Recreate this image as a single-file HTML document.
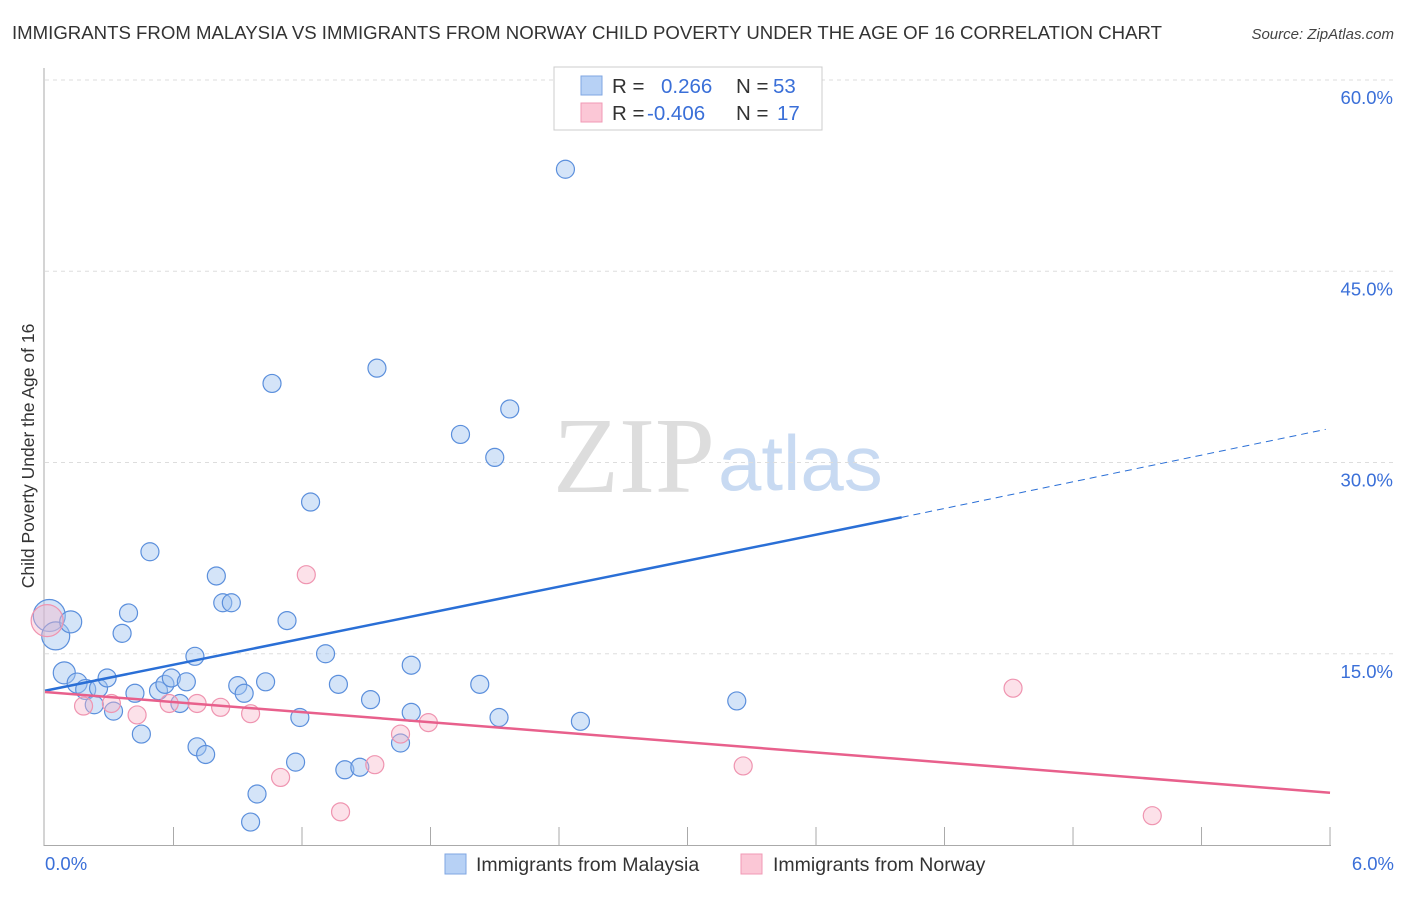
<!DOCTYPE html>
<html><head><meta charset="utf-8"><style>
body{margin:0;background:#fff;font-family:"Liberation Sans",sans-serif}
</style></head><body>
<svg width="1406" height="892" xmlns="http://www.w3.org/2000/svg" font-family="Liberation Sans, sans-serif">
<text x="12" y="39" font-size="18.5" fill="#333" textLength="1150" lengthAdjust="spacingAndGlyphs">IMMIGRANTS FROM MALAYSIA VS IMMIGRANTS FROM NORWAY CHILD POVERTY UNDER THE AGE OF 16 CORRELATION CHART</text>
<text x="1394" y="39" font-size="15" fill="#444" text-anchor="end" font-style="italic">Source: ZipAtlas.com</text>
<g><text x="553" y="492" font-size="108" fill="#ddd" font-family="Liberation Serif, serif">ZIP</text><text x="718" y="490" font-size="78" fill="#c8daf2">atlas</text></g>
<g id="grid"></g><g id="axes"></g><g id="marks"></g>
<text transform="translate(34,456) rotate(-90)" font-size="17.5" fill="#333" text-anchor="middle">Child Poverty Under the Age of 16</text>
<g>
<rect x="554" y="67" width="268" height="63" fill="#fff" stroke="#ccc"/>
<rect x="581" y="76" width="21" height="19" fill="#b7d1f5" stroke="#7fa6e2"/>
<rect x="581" y="103" width="21" height="19" fill="#fbc7d6" stroke="#f09ab5"/>
<text x="612" y="93" font-size="20.5" fill="#333">R = <tspan fill="#3a6fd8" x="661">0.266</tspan><tspan x="736" fill="#333">N = </tspan><tspan fill="#3a6fd8" x="773">53</tspan></text>
<text x="612" y="120" font-size="20.5" fill="#333">R = <tspan fill="#3a6fd8" x="647">-0.406</tspan><tspan x="736" fill="#333">N = </tspan><tspan fill="#3a6fd8" x="777">17</tspan></text>
</g>
<g>
<rect x="445" y="854" width="21" height="20" fill="#b7d1f5" stroke="#7fa6e2"/>
<text x="476" y="871" font-size="19.5" fill="#333">Immigrants from Malaysia</text>
<rect x="741" y="854" width="21" height="20" fill="#fbc7d6" stroke="#f09ab5"/>
<text x="773" y="871" font-size="19.5" fill="#333">Immigrants from Norway</text>
</g>
</svg>
<script>
const yTicks=[15,30,45,60];
const yTickLabels=["15.0%","30.0%","45.0%","60.0%"];
const xTickLabels=["0.0%","6.0%"];
const blueX=[0.02,0.05,0.12,0.09,0.15,0.19,0.23,0.25,0.29,0.32,0.36,0.39,0.42,0.45,0.49,0.53,0.56,0.59,0.63,0.66,0.70,0.71,0.75,0.80,0.83,0.87,0.90,0.93,0.99,0.96,1.03,1.06,1.13,1.17,1.19,1.24,1.31,1.37,1.40,1.47,1.52,1.55,1.66,1.71,1.71,1.94,2.03,2.10,2.12,2.17,2.43,2.50,3.23];
const blueY=[18.0,16.4,17.5,13.5,12.7,12.2,11.0,12.3,13.1,10.5,16.6,18.2,11.9,8.7,23.0,12.1,12.6,13.1,11.1,12.8,14.8,7.7,7.1,21.1,19.0,19.0,12.5,11.9,4.0,1.8,12.8,36.2,17.6,6.5,10.0,26.9,15.0,12.6,5.9,6.1,11.4,37.4,8.0,10.4,14.1,32.2,12.6,30.4,10.0,34.2,53.0,9.7,11.3];
const blueR=[16,14,11,11,10,10,9,9,9,9,9,9,9,9,9,9,9,9,9,9,9,9,9,9,9,9,9,9,9,9,9,9,9,9,9,9,9,9,9,9,9,9,9,9,9,9,9,9,9,9,9,9,9];
const pinkX=[0.01,0.18,0.31,0.43,0.58,0.71,0.82,0.96,1.10,1.22,1.38,1.54,1.66,1.79,3.26,4.52,5.17];
const pinkY=[17.6,10.9,11.1,10.2,11.1,11.1,10.8,10.3,5.3,21.2,2.6,6.3,8.7,9.6,6.2,12.3,2.3];
const pinkR=[16,9,9,9,9,9,9,9,9,9,9,9,9,9,9,9,9];
const blueTrendX=[0,4.0,5.98];
const blueTrendY=[12.1,25.7,32.6];
const pinkTrendX=[0,6.0];
const pinkTrendY=[12.0,4.1];
const NS="http://www.w3.org/2000/svg";
const X=v=>45+v*214.17, Y=v=>845-v*12.75;
function mk(t,a,p){const e=document.createElementNS(NS,t);for(const k in a)e.setAttribute(k,a[k]);p.appendChild(e);return e;}
const grid=document.getElementById('grid'),axes=document.getElementById('axes'),marks=document.getElementById('marks');
yTicks.forEach((t,i)=>{
 const l=mk('line',{x1:45,x2:1394,y1:Y(t),y2:Y(t),stroke:'#ddd','stroke-dasharray':'4,4'},grid);
 
 
 const tx=mk('text',{x:1393,y:Y(t)+24,'font-size':18.5,fill:'#3a6fd8','text-anchor':'end'},axes);
 tx.textContent=yTickLabels[i];
 
 
});
mk('line',{x1:44,x2:44,y1:68,y2:846,stroke:'#aaa'},axes);
mk('line',{x1:44,x2:1331,y1:845.5,y2:845.5,stroke:'#aaa'},axes);
for(let i=1;i<=10;i++){const l=mk('line',{x1:X(i*0.6),x2:X(i*0.6),y1:827,y2:845,stroke:'#aaa'},axes);
 
 }
[[0,45,'start'],[1,1394,'end']].forEach(([i,x,a])=>{const t=mk('text',{x:x,y:870,'font-size':18.5,fill:'#3a6fd8','text-anchor':a},axes);t.textContent=xTickLabels[i];
 
 });
function dots(xs,ys,rs,fill,stroke,name){xs.forEach((v,i)=>{const c=mk('circle',{cx:X(v),cy:Y(ys[i]),r:rs[i],fill:fill,stroke:stroke,'stroke-width':1.2},marks);
 
 });}
dots(blueX,blueY,blueR,'rgba(160,195,240,0.45)','#5b8fdc','point-malaysia');
dots(pinkX,pinkY,pinkR,'rgba(248,180,200,0.4)','#ef94b0','point-norway');
const b1=mk('line',{x1:X(blueTrendX[0]),y1:Y(blueTrendY[0]),x2:X(blueTrendX[1]),y2:Y(blueTrendY[1]),stroke:'#2a6fd6','stroke-width':2.5},marks);


const b2=mk('line',{x1:X(blueTrendX[1]),y1:Y(blueTrendY[1]),x2:X(blueTrendX[2]),y2:Y(blueTrendY[2]),stroke:'#2a6fd6','stroke-width':1,'stroke-dasharray':'7,5'},marks);


const p1=mk('line',{x1:X(pinkTrendX[0]),y1:Y(pinkTrendY[0]),x2:X(pinkTrendX[1]),y2:Y(pinkTrendY[1]),stroke:'#e8608c','stroke-width':2.5},marks);


</script>
</body></html>
